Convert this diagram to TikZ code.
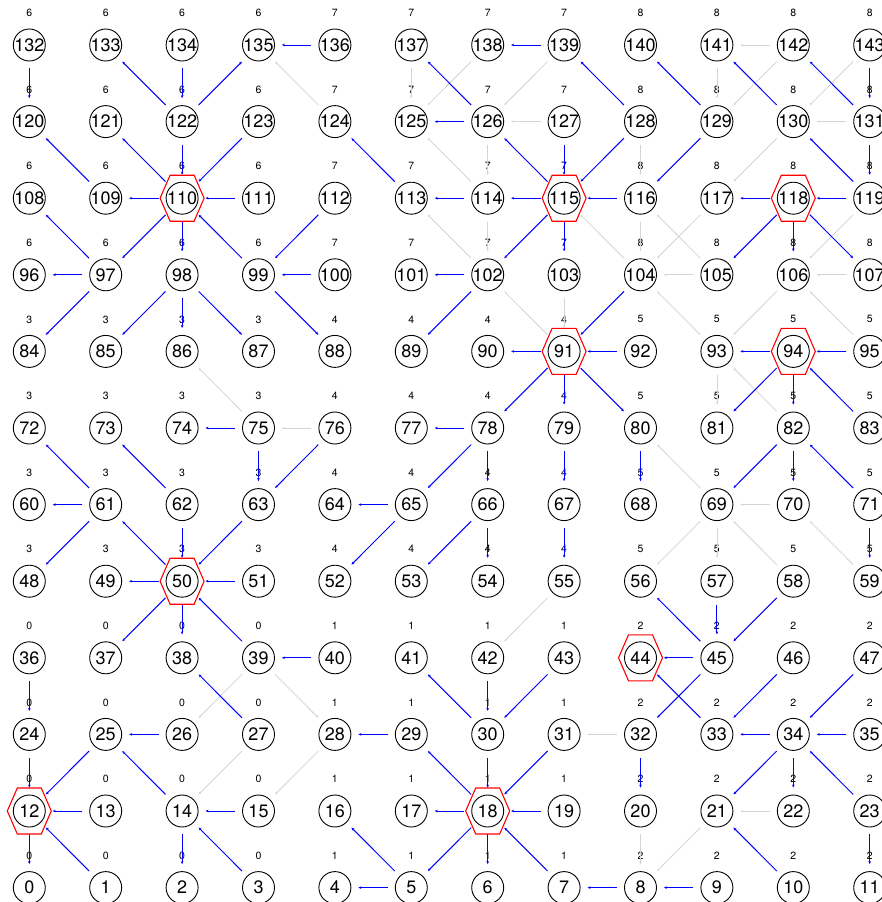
\documentclass[tikz,border=0pt]{standalone}
\usepackage{fontspec}
\setmainfont{TeX Gyre Heros}
\usetikzlibrary{arrows.meta}
\definecolor{myblue}{RGB}{0,0,255}
\definecolor{mygray}{RGB}{212,212,212}
\definecolor{myred}{RGB}{255,0,0}
\begin{document}
\begin{tikzpicture}[x=1pt,y=-1pt,
  nd/.style={circle,draw=black,line width=0.9pt,minimum size=32pt,inner sep=0pt,font=\fontsize{18}{18}\selectfont},
  lbl/.style={inner sep=0pt,font=\fontsize{10.5}{10.5}\selectfont},
  be/.style={draw=myblue,line width=1pt,-{Stealth[length=3pt,width=2.6pt]},shorten >=7pt,shorten <=7pt},
  ge/.style={draw=mygray,line width=0.8pt,-{Stealth[length=2.6pt,width=2.2pt]},shorten >=7pt,shorten <=7pt},
  hexa/.style={draw=myred,line width=1.1pt}]
\fill[white] (0,0) rectangle (882,902);
\path[use as bounding box] (0,0) rectangle (882,902);
\clip (0,0) rectangle (882,902);
\foreach \rr in {0,...,11}{
  \foreach \cc in {0,...,11}{
    \pgfmathtruncatemacro\id{12*\rr+\cc}
    \pgfmathtruncatemacro\cl{3*int(\rr/4)+int(\cc/4)}
    \pgfmathsetmacro\xx{29.3+76.4*\cc}
    \pgfmathsetmacro\yy{45+76.6*(11-\rr)}
    \node[nd] (n\id) at (\xx,\yy) {\makebox[0pt]{\id}};
    \node[lbl] (l\id) at (\xx,\yy-32) {\cl};
  }
}
% gray edges
\foreach \a/\b in {124/135,137/125,138/125,139/126,127/126,114/125,126/114,102/113,114/102,142/141,141/129,142/129,143/130,131/130,128/116,130/117,116/104,105/116,117/104,104/115,105/104,107/106,119/106,91/102,103/91,93/104,106/93,95/106,75/86,76/75,93/81,82/93,69/80,70/69,59/70,69/56,69/57,58/69,55/42,39/26,39/28,27/14,28/15,32/31,22/21,20/8,21/8}
  \draw[ge] (n\a) -- (n\b);
% blue edges
\foreach \a/\b in {132/120,134/122,122/110,110/98,98/86,127/115,115/103,143/131,131/119,118/106,91/79,78/66,79/67,66/54,67/55,94/82,80/68,82/70,71/59,57/45,75/63,62/50,50/38,36/24,24/12,12/0,14/2,42/30,30/18,18/6,32/20,34/22,23/11,
  136/135,110/109,111/110,97/96,100/99,139/138,126/125,114/113,115/114,116/115,102/101,118/117,119/118,91/90,92/91,78/77,65/64,94/93,95/94,75/74,61/60,50/49,51/50,40/39,26/25,13/12,15/14,29/28,18/17,19/18,5/4,8/7,45/44,34/33,35/34,9/8,
  122/133,109/120,110/121,99/110,97/108,126/137,113/124,115/126,128/139,129/140,130/141,131/142,119/130,118/107,98/87,99/88,91/80,83/94,71/82,61/72,62/73,50/61,39/50,27/38,14/25,1/12,3/14,5/16,7/18,18/29,30/41,33/44,23/34,10/21,45/56,
  122/135,123/110,110/97,112/99,115/102,128/115,129/116,118/105,104/91,97/84,98/85,102/89,91/78,78/65,65/52,66/53,94/81,82/69,76/63,61/48,63/50,50/37,25/12,18/5,43/30,31/18,45/32,46/33,47/34,34/21,58/45}
  \draw[be] (n\a) -- (n\b);
% cluster heads
\foreach \h in {12,18,44,50,91,94,110,115,118}
  \draw[hexa] ([shift={(-22,0)}]n\h.center) -- ([shift={(-12,-23)}]n\h.center) -- ([shift={(12,-23)}]n\h.center) -- ([shift={(22,0)}]n\h.center) -- ([shift={(12,23)}]n\h.center) -- ([shift={(-12,23)}]n\h.center) -- cycle;
\end{tikzpicture}
\end{document}
